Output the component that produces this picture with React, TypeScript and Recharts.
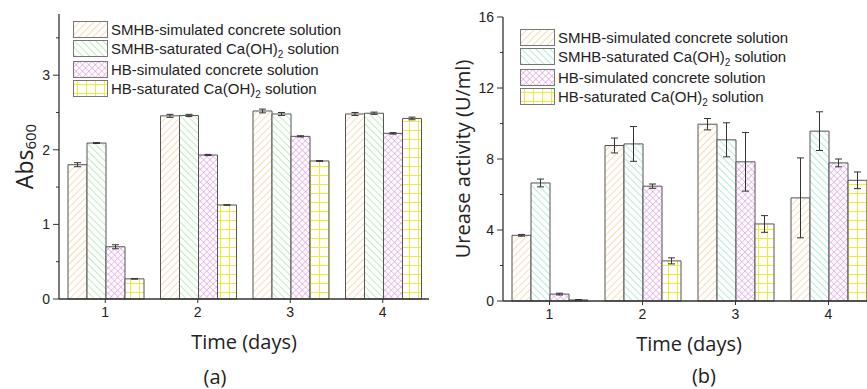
import React from 'react';
import { BarChart, Bar, XAxis, YAxis, ErrorBar, Legend, Label } from 'recharts';

const days = ['1', '2', '3', '4'];
const seriesNames = [
  'SMHB-simulated concrete solution',
  'SMHB-saturated Ca(OH)₂ solution',
  'HB-simulated concrete solution',
  'HB-saturated Ca(OH)₂ solution',
];

// (a) Abs600
const absSmhbConcrete = [1.8, 2.455, 2.52, 2.48];
const absSmhbCaOH = [2.09, 2.46, 2.48, 2.49];
const absHbConcrete = [0.7, 1.93, 2.18, 2.22];
const absHbCaOH = [0.27, 1.26, 1.85, 2.42];
const absSmhbConcreteErr = [0.027, 0.02, 0.025, 0.02];
const absSmhbCaOHErr = [0.006, 0.015, 0.02, 0.015];
const absHbConcreteErr = [0.027, 0.008, 0.008, 0.01];
const absHbCaOHErr = [0.003, 0.003, 0.005, 0.018];
const absTicks = [0, 0.5, 1, 1.5, 2, 2.5, 3, 3.5];

// (b) urease activity (U/ml)
const ureSmhbConcrete = [3.7, 8.76, 9.96, 5.81];
const ureSmhbCaOH = [6.65, 8.85, 9.08, 9.57];
const ureHbConcrete = [0.39, 6.47, 7.84, 7.78];
const ureHbCaOH = [0.06, 2.26, 4.34, 6.8];
const ureSmhbConcreteErr = [0.05, 0.42, 0.32, 2.25];
const ureSmhbCaOHErr = [0.22, 0.98, 0.96, 1.09];
const ureHbConcreteErr = [0.05, 0.12, 1.65, 0.22];
const ureHbCaOHErr = [0.02, 0.17, 0.47, 0.47];
const ureTicks = [0, 2, 4, 6, 8, 10, 12, 14, 16];

const tickFont = '"Liberation Sans", Arial, sans-serif';
const titleFont = '"Open Sans", "Noto Sans", sans-serif';

const makeRows = (vals: number[][], errs: number[][]) =>
  days.map((day, i) => {
    const row: Record<string, any> = { day };
    vals.forEach((v, k) => {
      row['s' + k] = v[i];
      row['e' + k] = errs[k][i];
    });
    return row;
  });

const absRows = makeRows(
  [absSmhbConcrete, absSmhbCaOH, absHbConcrete, absHbCaOH],
  [absSmhbConcreteErr, absSmhbCaOHErr, absHbConcreteErr, absHbCaOHErr]
);
const ureRows = makeRows(
  [ureSmhbConcrete, ureSmhbCaOH, ureHbConcrete, ureHbCaOH],
  [ureSmhbConcreteErr, ureSmhbCaOHErr, ureHbConcreteErr, ureHbCaOHErr]
);

function Patterns({ id, green }: { id: string; green: string }) {
  return (
    <defs>
      <pattern id={id + '0'} width={5} height={5} patternUnits="userSpaceOnUse" patternTransform="rotate(45)">
        <rect width={5} height={5} fill="#fff" />
        <line x1={0} y1={0} x2={0} y2={5} stroke="#f0c27f" strokeWidth={1.1} />
      </pattern>
      <pattern id={id + '1'} width={5} height={5} patternUnits="userSpaceOnUse" patternTransform="rotate(-45)">
        <rect width={5} height={5} fill="#fff" />
        <line x1={0} y1={0} x2={0} y2={5} stroke={green} strokeWidth={1.1} />
      </pattern>
      <pattern id={id + '2'} width={4.5} height={4.5} patternUnits="userSpaceOnUse" patternTransform="rotate(45)">
        <rect width={4.5} height={4.5} fill="#fff" />
        <line x1={0} y1={0} x2={0} y2={4.5} stroke="#d98ade" strokeWidth={1} />
        <line x1={0} y1={0} x2={4.5} y2={0} stroke="#d98ade" strokeWidth={1} />
      </pattern>
      <pattern id={id + '3'} width={9} height={9} patternUnits="userSpaceOnUse">
        <rect width={9} height={9} fill="#fff" />
        <line x1={4.5} y1={0} x2={4.5} y2={9} stroke="#ecec3a" strokeWidth={1} />
        <line x1={0} y1={4.5} x2={9} y2={4.5} stroke="#ecec3a" strokeWidth={1} />
      </pattern>
    </defs>
  );
}

const formatName = (name: string) => {
  const parts = name.split('₂');
  if (parts.length < 2) return name;
  return (
    <>
      {parts[0]}
      <sub style={{ fontSize: 10, lineHeight: 0 }}>2</sub>
      {parts[1]}
    </>
  );
};

const renderLegend = (props: any) => (
  <div style={{ fontFamily: tickFont, fontSize: 15, color: '#222' }}>
    {props.payload.map((entry: any, i: number) => (
      <div
        key={entry.value}
        style={{ display: 'flex', alignItems: 'center', height: 19, marginTop: i === 2 ? 2 : 0 }}
      >
        <svg width={35} height={17} style={{ display: 'block' }}>
          <rect x={0.5} y={0.5} width={34} height={16} fill={entry.color} stroke="#777" />
        </svg>
        <span style={{ marginLeft: 3, whiteSpace: 'nowrap' }}>{formatName(entry.value)}</span>
      </div>
    ))}
  </div>
);

const YTick = ({ y, payload, plotLeft, isMajor }: any) => {
  const major = isMajor(payload.value);
  return (
    <g>
      <line x1={plotLeft - (major ? 6 : 3)} x2={plotLeft} y1={y} y2={y} stroke="#333" strokeWidth={1} />
      {major && (
        <text
          x={plotLeft - 9}
          y={y}
          textAnchor="end"
          dominantBaseline="central"
          fontSize={14}
          fontFamily={tickFont}
          fill="#222"
        >
          {payload.value}
        </text>
      )}
    </g>
  );
};

interface PanelProps {
  id: string;
  rows: any[];
  green: string;
  yMax: number;
  ticks: number[];
  isMajor: (v: number) => boolean;
  left: number;
  width: number;
  top: number;
  right: number;
  axisWidth: number;
  axisHeight: number;
  yTitle: (cx: number, cy: number) => React.ReactNode;
  yTitleX: number;
  legendLeft: number;
  legendTop: number;
}

function Panel(p: PanelProps) {
  return (
    <div style={{ position: 'absolute', left: p.left, top: 0 }}>
      <BarChart
        width={p.width}
        height={389}
        data={p.rows}
        margin={{ top: p.top, right: p.right, bottom: 0, left: 0 }}
        barCategoryGap={9}
        barGap={0}
      >
        <Patterns id={p.id} green={p.green} />
        <XAxis
          dataKey="day"
          height={p.axisHeight}
          tickSize={4}
          tickMargin={4}
          tick={{ fill: '#222', fontSize: 14, fontFamily: tickFont }}
          axisLine={{ stroke: '#333', strokeWidth: 1.3 }}
          tickLine={{ stroke: '#333' }}
          label={
            <Label
              content={({ viewBox }: any) => (
                <text
                  x={viewBox.x + viewBox.width / 2}
                  y={viewBox.y + 50}
                  textAnchor="middle"
                  fontSize={20}
                  fontFamily={titleFont}
                  fill="#222"
                >
                  Time (days)
                </text>
              )}
            />
          }
        />
        <XAxis xAxisId="top" dataKey="day" orientation="top" height={0} tick={false} tickLine={false} axisLine={{ stroke: '#555' }} />
        <YAxis
          domain={[0, p.yMax]}
          ticks={p.ticks}
          width={p.axisWidth}
          tickLine={false}
          tickSize={6}
          tickMargin={3}
          axisLine={{ stroke: '#333', strokeWidth: 1.3 }}
          tick={(props: any) => <YTick {...props} plotLeft={p.axisWidth} isMajor={p.isMajor} />}
          label={
            <Label
              content={({ viewBox }: any) => p.yTitle(viewBox.x + p.yTitleX, viewBox.y + viewBox.height / 2)}
            />
          }
        />
        <YAxis yAxisId="r" orientation="right" domain={[0, p.yMax]} width={0} tick={false} tickLine={false} axisLine={{ stroke: '#555' }} />
        <Legend
          layout="vertical"
          align="center"
          verticalAlign="middle"
          itemSorter="dataKey"
          wrapperStyle={{ left: p.legendLeft, top: p.legendTop, width: 330 }}
          content={renderLegend}
        />
        {seriesNames.map((name, k) => (
          <Bar
            key={name}
            dataKey={'s' + k}
            name={name}
            fill={`url(#${p.id}${k})`}
            stroke="#555"
            strokeWidth={1}
            isAnimationActive={false}
          >
            <ErrorBar dataKey={'e' + k} width={3.5} stroke="#333" strokeWidth={1} isAnimationActive={false} />
          </Bar>
        ))}
      </BarChart>
    </div>
  );
}

const captionStyle: React.CSSProperties = {
  position: 'absolute',
  width: 430,
  top: 366,
  height: 22,
  lineHeight: '22px',
  textAlign: 'center',
  fontFamily: titleFont,
  fontSize: 20,
  color: '#222',
};

export default function App() {
  return (
    <div
      style={{
        position: 'absolute',
        left: 0,
        top: 0,
        width: 867,
        height: 389,
        overflow: 'hidden',
        background: '#fff',
      }}
    >
      <Panel
        id="pa"
        rows={absRows}
        green="#8fd98f"
        yMax={3.82}
        ticks={absTicks}
        isMajor={(v) => Number.isInteger(v)}
        left={0}
        width={435}
        top={14}
        right={6}
        axisWidth={59}
        axisHeight={90}
        yTitleX={24}
        yTitle={(cx, cy) => (
          <text
            x={cx}
            y={cy}
            transform={`rotate(-90, ${cx}, ${cy})`}
            textAnchor="middle"
            dominantBaseline="central"
            fontSize={23}
            fontFamily={titleFont}
            fill="#222"
          >
            Abs
            <tspan fontSize={15} dy={6}>
              600
            </tspan>
          </text>
        )}
        legendLeft={73}
        legendTop={20}
      />
      <Panel
        id="pb"
        rows={ureRows}
        green="#7fd9c2"
        yMax={16}
        ticks={ureTicks}
        isMajor={(v) => v % 4 === 0}
        left={430}
        width={460}
        top={17}
        right={15}
        axisWidth={73}
        axisHeight={88}
        yTitleX={32}
        yTitle={(cx, cy) => (
          <text
            x={cx}
            y={cy}
            transform={`rotate(-90, ${cx}, ${cy})`}
            textAnchor="middle"
            dominantBaseline="central"
            fontSize={20}
            fontFamily={titleFont}
            fill="#222"
          >
            Urease activity (U/ml)
          </text>
        )}
        legendLeft={90}
        legendTop={28}
      />
      <div style={{ ...captionStyle, left: 0 }}>(a)</div>
      <div style={{ ...captionStyle, left: 489, top: 365 }}>(b)</div>
    </div>
  );
}
